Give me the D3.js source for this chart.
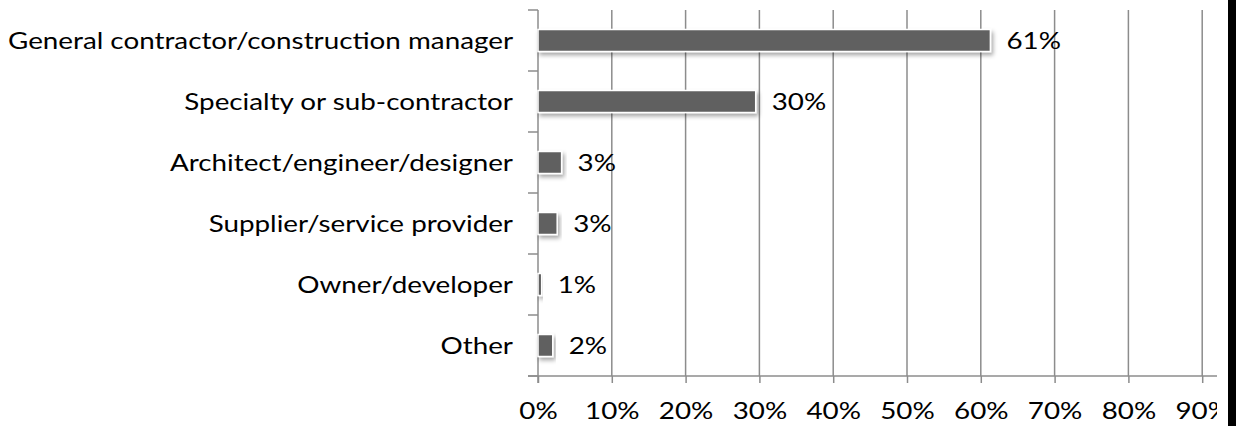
<!DOCTYPE html>
<html lang="en">
<head>
  <meta charset="utf-8">
  <title>Respondent roles</title>
  <style>
    body { margin:0; background:#fff; }
    svg text { font-family: Lato, "Open Sans", sans-serif; fill:#000; }
  </style>
</head>
<body>
  <svg id="chart" width="1236" height="426"></svg>
  <script src="https://cdn.jsdelivr.net/npm/d3@7"></script>
  <script>
    var categories = ["General contractor/construction manager", "Specialty or sub-contractor",
      "Architect/engineer/designer", "Supplier/service provider", "Owner/developer", "Other"];
    var values = [61.3, 29.5, 3.2, 2.6, 0.5, 2.0];
    var tickValues = [0, 10, 20, 30, 40, 50, 60, 70, 80, 90, 100];

    var svg = d3.select("#chart");
    var plotLeft = 538, plotTop = 10, plotBottom = 376, clipRight = 1217;
    var fontSize = "23px";

    var x = d3.scaleLinear().domain([0, 100]).range([plotLeft, plotLeft + 738]);
    var y = d3.scaleBand().domain(categories).range([plotTop, plotBottom]);

    var defs = svg.append("defs");
    defs.append("clipPath").attr("id", "clip")
      .append("rect").attr("x", 0).attr("y", 0).attr("width", clipRight).attr("height", 426);
    var f = defs.append("filter").attr("id", "shadow")
      .attr("x", "-20%").attr("y", "-50%").attr("width", "140%").attr("height", "200%");
    f.append("feDropShadow").attr("dx", 2).attr("dy", 3).attr("stdDeviation", 2)
      .attr("flood-color", "#000").attr("flood-opacity", 0.35);

    var g = svg.append("g").attr("clip-path", "url(#clip)");

    // vertical gridlines
    g.selectAll("line.grid").data(tickValues.slice(1)).enter().append("line")
      .attr("class", "grid")
      .attr("x1", function(d){ return x(d); }).attr("x2", function(d){ return x(d); })
      .attr("y1", plotTop).attr("y2", plotBottom)
      .attr("stroke", "#8c8c8c").attr("stroke-width", 1.5);

    // x axis
    var xAxis = d3.axisBottom(x).tickValues(tickValues).tickSize(7)
      .tickFormat(function(d){ return d + "%"; });
    var xa = g.append("g").attr("transform", "translate(0," + plotBottom + ")").call(xAxis);
    xa.select(".domain").attr("stroke", "#8c8c8c").attr("stroke-width", 1.5)
      .attr("d", "M" + (plotLeft - 10) + ",0H" + (plotLeft + 738));
    xa.selectAll(".tick line").attr("stroke", "#8c8c8c").attr("stroke-width", 1.5);
    xa.selectAll(".tick text").attr("dy", "0.35em").attr("y", 35)
      .style("font-size", fontSize).style("font-family", null).attr("font-family", null).attr("fill", "#000");

    // y axis
    var yTicks = categories.map(function(c){ return y(c); }).concat([plotBottom]);
    g.append("line").attr("x1", plotLeft).attr("x2", plotLeft).attr("y1", plotTop).attr("y2", plotBottom + 7)
      .attr("stroke", "#8c8c8c").attr("stroke-width", 1.5);
    g.selectAll("line.ytick").data(yTicks).enter().append("line")
      .attr("class", "ytick")
      .attr("x1", plotLeft - 10).attr("x2", plotLeft)
      .attr("y1", function(d){ return d; }).attr("y2", function(d){ return d; })
      .attr("stroke", "#8c8c8c").attr("stroke-width", 1.5);

    g.selectAll("text.cat").data(categories).enter().append("text")
      .attr("class", "cat")
      .attr("x", 513).attr("y", function(d){ return y(d) + y.bandwidth() / 2; })
      .attr("dy", "0.35em").attr("text-anchor", "end")
      .style("font-size", fontSize)
      .text(function(d){ return d; });

    // bars
    var barH = 22;
    g.selectAll("rect.bar").data(values).enter().append("rect")
      .attr("class", "bar")
      .attr("x", x(0))
      .attr("y", function(d, i){ return y(categories[i]) + y.bandwidth() / 2 - barH / 2; })
      .attr("width", function(d){ return x(d) - x(0); })
      .attr("height", barH)
      .attr("fill", "#606060").attr("stroke", "#fff").attr("stroke-width", 1.5)
      .attr("filter", "url(#shadow)");

    g.selectAll("text.val").data(values).enter().append("text")
      .attr("class", "val")
      .attr("x", function(d){ return x(d) + 16; })
      .attr("y", function(d, i){ return y(categories[i]) + y.bandwidth() / 2; })
      .attr("dy", "0.35em")
      .style("font-size", fontSize)
      .text(function(d){ return Math.round(d) + "%"; });

    // the source font runs wider than Lato: stretch every text to the same ratio
    var longest = g.select("text.cat").node().getComputedTextLength();
    var stretch = 505 / longest;
    svg.selectAll("text").each(function(){
      var w = this.getComputedTextLength();
      d3.select(this).attr("textLength", w * stretch).attr("lengthAdjust", "spacingAndGlyphs");
    });

    // cropped edge
    svg.append("rect").attr("x", 1228).attr("y", 0).attr("width", 8).attr("height", 426).attr("fill", "#000");
  </script>
</body>
</html>
